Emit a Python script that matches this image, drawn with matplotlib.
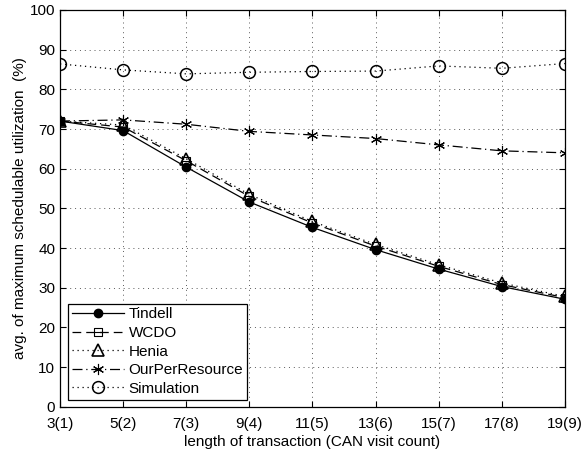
import matplotlib
matplotlib.use('Agg')
import matplotlib.pyplot as plt
from matplotlib.path import Path
import numpy as np

plt.rcParams['font.family'] = ['Liberation Sans', 'DejaVu Sans']

xlabels = ['3(1)', '5(2)', '7(3)', '9(4)', '11(5)', '13(6)', '15(7)', '17(8)', '19(9)']
tindell = [72.0, 69.6, 60.4, 51.6, 45.2, 39.6, 34.7, 30.3, 27.1]
wcdo = [72.0, 70.5, 62.0, 53.0, 46.3, 40.5, 35.4, 30.8, 27.5]
henia = [72.0, 71.0, 62.5, 53.5, 46.7, 40.9, 35.8, 31.2, 27.8]
ourperres = [72.0, 72.3, 71.2, 69.4, 68.5, 67.6, 66.0, 64.5, 64.0]
simulation = [86.4, 84.9, 83.9, 84.3, 84.5, 84.6, 85.9, 85.3, 86.5]

x = np.arange(len(xlabels))

# square with a horizontal bar through it (matlab-ish marker)
boxminus = Path([(-1, -1), (1, -1), (1, 1), (-1, 1), (-1, -1), (-1, 0), (1, 0)],
                [Path.MOVETO, Path.LINETO, Path.LINETO, Path.LINETO,
                 Path.CLOSEPOLY, Path.MOVETO, Path.LINETO])

fig = plt.figure(figsize=(5.83, 4.53), dpi=100)
ax = fig.add_axes([0.103, 0.102, 0.866, 0.876])

ax.plot(x, tindell, '-', color='black', marker='o', markersize=6,
        markerfacecolor='black', linewidth=0.9, label='Tindell')
ax.plot(x, wcdo, '--', color='black', marker=boxminus, markersize=6,
        markerfacecolor='none', markeredgewidth=0.8,
        linewidth=0.9, dashes=(7, 4), label='WCDO')
ax.plot(x, henia, color='black', marker='^', markersize=8,
        markerfacecolor='none', markeredgewidth=1.2, linewidth=0.9,
        linestyle=(0, (1, 3)), label='Henia')
ax.plot(x, ourperres, '-.', color='black', marker=(6, 2, 0), markersize=8,
        markeredgewidth=0.8, linewidth=0.9, dashes=(8, 3, 1, 3),
        label='OurPerResource')
ax.plot(x, simulation, color='black', marker='o', markersize=8.5,
        markerfacecolor='none', markeredgewidth=1.1, linewidth=0.9,
        linestyle=(0, (1, 3)), label='Simulation')

ax.set_xlim(0, len(xlabels) - 1)
ax.set_ylim(0, 100)
ax.set_xticks(x)
ax.set_xticklabels(xlabels)
ax.set_yticks(np.arange(0, 101, 10))
ax.tick_params(direction='in', top=True, right=True, labelsize=11, length=4)
ax.tick_params(axis='x', pad=7.5)
ax.grid(True, linestyle=(0, (1, 4)), color='0.35', linewidth=0.7)
for s in ax.spines.values():
    s.set_linewidth(0.9)

ax.set_xlabel('length of transaction (CAN visit count)', fontsize=11, labelpad=3)
ax.set_ylabel('avg. of maximum schedulable utilization  (%)', fontsize=11, labelpad=2)

leg = ax.legend(loc='lower left', fontsize=11, fancybox=False, framealpha=1,
                edgecolor='black', handlelength=3.4, borderpad=0.25,
                labelspacing=0.3, handletextpad=0.3, borderaxespad=0,
                bbox_to_anchor=(0.016, 0.018))
leg.get_frame().set_linewidth(0.9)

fig.savefig('out.png', dpi=100)
